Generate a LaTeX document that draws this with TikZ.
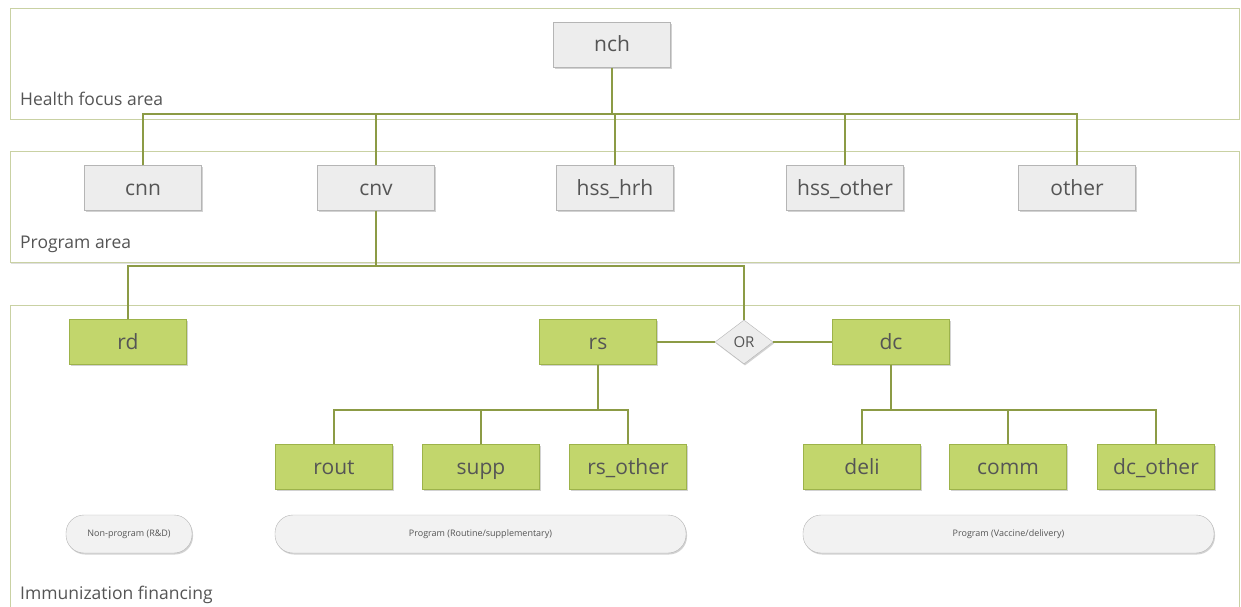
\documentclass[tikz,border=0pt]{standalone}
\usepackage{fontspec}
\setmainfont{Open Sans}
\usetikzlibrary{shapes.geometric,shadows}
\definecolor{panelc}{HTML}{C9D1A3}
\definecolor{linec}{HTML}{8C9B45}
\definecolor{greyfill}{HTML}{EDEDED}
\definecolor{greydraw}{HTML}{B5B5B5}
\definecolor{greenfill}{HTML}{C2D66C}
\definecolor{greendraw}{HTML}{9DB34A}
\definecolor{txt}{HTML}{555555}
\tikzset{
  panel/.style={draw=panelc, line width=0.9pt},
  greybox/.style={draw=greydraw, fill=greyfill, minimum width=117pt, minimum height=45pt, inner sep=0pt,
    text height=16pt, text depth=2pt,
    font=\fontsize{21}{23}\selectfont, text=txt, drop shadow={shadow xshift=1pt, shadow yshift=-1.5pt, opacity=0.35}},
  greenbox/.style={draw=greendraw, fill=greenfill, minimum width=117pt, minimum height=45pt, inner sep=0pt,
    text height=16pt, text depth=2pt,
    font=\fontsize{21}{23}\selectfont, text=txt, drop shadow={shadow xshift=1pt, shadow yshift=-1.5pt, opacity=0.35}},
  pill/.style={draw=greydraw, fill=greyfill!70, rounded corners=18pt, minimum height=38pt, inner sep=0pt,
    font=\fontsize{9}{10}\selectfont, text=txt, drop shadow={shadow xshift=1pt, shadow yshift=-1.5pt, opacity=0.35}},
  ordia/.style={diamond, aspect=1.35, draw=greydraw, fill=greyfill, inner sep=1pt, minimum width=58pt, minimum height=44pt,
    font=\fontsize{15}{16}\selectfont, text=txt, drop shadow={shadow xshift=1pt, shadow yshift=-1.5pt, opacity=0.35}},
  conn/.style={draw=linec, line width=1.1pt},
  arealabel/.style={anchor=base west, inner sep=0pt, font=\fontsize{17.5}{19}\selectfont, text=txt}
}
\begin{document}
\begin{tikzpicture}[x=1pt,y=-1pt]
\useasboundingbox[fill=white] (0,0) rectangle (1241,607);
% panels
\draw[panel, fill=white, drop shadow={shadow xshift=0.5pt, shadow yshift=-1.5pt, opacity=0.25}] (10,8) rectangle (1239,119);
\draw[panel, fill=white, drop shadow={shadow xshift=0.5pt, shadow yshift=-1.5pt, opacity=0.25}] (10,151) rectangle (1239,262);
\draw[panel] (10,612) -- (10,305) -- (1239,305) -- (1239,612);
\node[arealabel] (lab1) at (20,106) {Health focus area};
\node[arealabel] (lab2) at (20,248) {Program area};
\node[arealabel] (lab3) at (20,599) {Immunization financing};

% coordinates for buses
\coordinate (bus1) at (0,114);
\coordinate (bus2) at (0,266);
\coordinate (bus3) at (0,410);

% nodes
\node[greybox] (nch) at (612,45) {nch};
\node[greybox] (cnn) at (143,188) {cnn};
\node[greybox] (cnv) at (376,188) {cnv};
\node[greybox] (hsshrh) at (615,188) {hss\_hrh};
\node[greybox] (hssother) at (845,188) {hss\_other};
\node[greybox] (other) at (1077,188) {other};

\node[greenbox] (rd) at (128,342) {rd};
\node[greenbox] (rs) at (598,342) {rs};
\node[ordia] (or) at (744,342) {OR};
\node[greenbox] (dc) at (891,342) {dc};

\node[greenbox] (rout) at (334,467) {rout};
\node[greenbox] (supp) at (481,467) {supp};
\node[greenbox] (rsother) at (628,467) {rs\_other};
\node[greenbox] (deli) at (862,467) {deli};
\node[greenbox] (comm) at (1008,467) {comm};
\node[greenbox] (dcother) at (1156,467) {dc\_other};

\node[pill, minimum width=126pt] (np) at (129,534) {Non-program (R\&D)};
\node[pill, minimum width=411pt] (prs) at (480.5,534) {Program (Routine/supplementary)};
\node[pill, minimum width=411pt] (pdc) at (1008.5,534) {Program (Vaccine/delivery)};

% connectors level 1
\draw[conn] (nch.south) -- (nch.south |- bus1);
\draw[conn] (cnn.north) -- (cnn.north |- bus1) -| (other.north);
\draw[conn] (cnv.north) -- (cnv.north |- bus1);
\draw[conn] (hsshrh.north) -- (hsshrh.north |- bus1);
\draw[conn] (hssother.north) -- (hssother.north |- bus1);
% level 2
\draw[conn] (cnv.south) -- (cnv.south |- bus2);
\draw[conn] (rd.north) -- (rd.north |- bus2) -| (or.north);
% OR links
\draw[conn] (rs.east) -- (or.west);
\draw[conn] (or.east) -- (dc.west);
% level 3
\draw[conn] (rs.south) -- (rs.south |- bus3);
\draw[conn] (rout.north) -- (rout.north |- bus3) -| (rsother.north);
\draw[conn] (supp.north) -- (supp.north |- bus3);
\draw[conn] (dc.south) -- (dc.south |- bus3);
\draw[conn] (deli.north) -- (deli.north |- bus3) -| (dcother.north);
\draw[conn] (comm.north) -- (comm.north |- bus3);
\end{tikzpicture}
\end{document}
